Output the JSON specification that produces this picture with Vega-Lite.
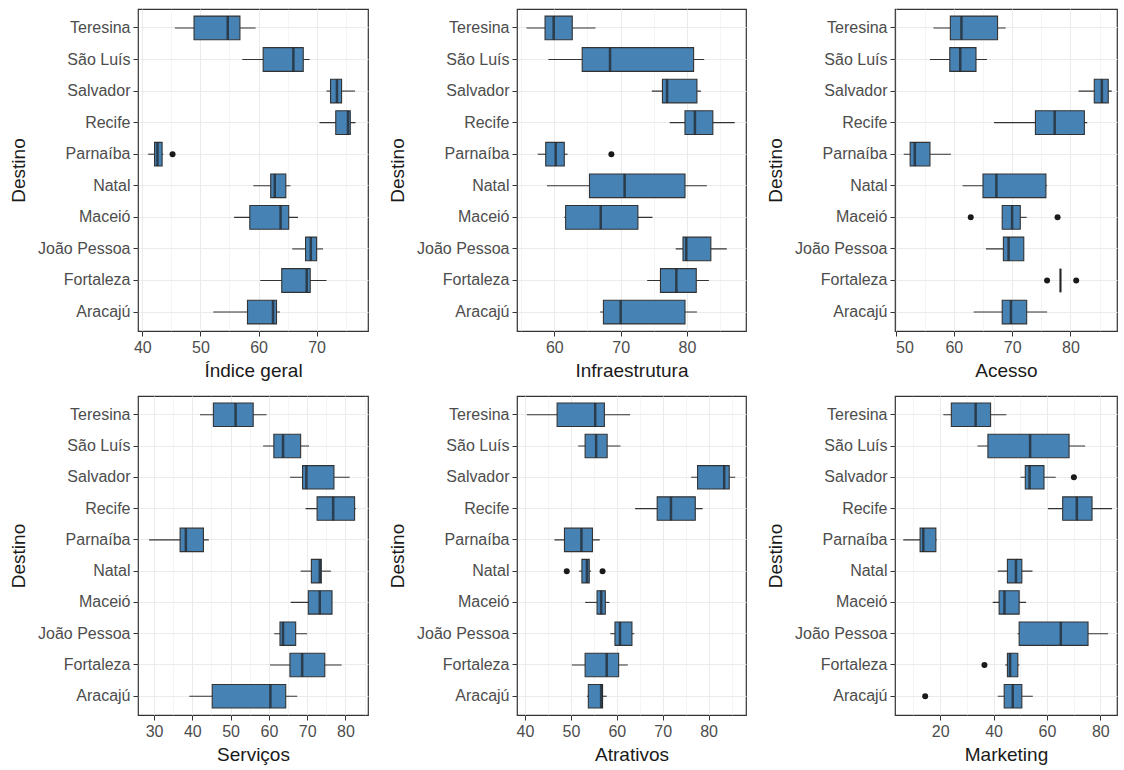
{
  "$schema": "https://vega.github.io/schema/vega-lite/v6.json",
  "padding": {"left": 8, "top": 8, "right": 0, "bottom": 0},
  "background": "white",
  "config": {
    "font": "Liberation Sans",
    "view": {"stroke": "#333333", "strokeWidth": 1.2},
    "axis": {
      "domain": false,
      "gridColor": "#EBEBEB",
      "tickColor": "#333333",
      "tickSize": 5,
      "tickWidth": 1,
      "labelFontSize": 16,
      "labelColor": "#4D4D4D",
      "labelPadding": 3,
      "labelOverlap": false,
      "titleFontSize": 19,
      "titleFontWeight": "normal",
      "titleColor": "#1A1A1A",
      "titlePadding": 6
    },
    "axisY": {"grid": true, "bandPosition": 0.5, "titlePadding": 9}
  },
  "datasets": {
    "stats": [
      {"v": "Índice geral", "Destino": "Teresina", "low": 45.6, "q1": 48.9, "med": 54.7, "q3": 56.8, "high": 59.5},
      {"v": "Índice geral", "Destino": "São Luís", "low": 57.2, "q1": 60.8, "med": 66.0, "q3": 67.7, "high": 68.8},
      {"v": "Índice geral", "Destino": "Salvador", "low": 71.7, "q1": 72.4, "med": 73.5, "q3": 74.3, "high": 76.6},
      {"v": "Índice geral", "Destino": "Recife", "low": 70.5, "q1": 73.3, "med": 75.4, "q3": 75.8, "high": 76.7},
      {"v": "Índice geral", "Destino": "Parnaíba", "low": 41.0, "q1": 42.1, "med": 42.6, "q3": 43.4, "high": 43.6},
      {"v": "Índice geral", "Destino": "Natal", "low": 59.1, "q1": 62.1, "med": 62.8, "q3": 64.7, "high": 65.5},
      {"v": "Índice geral", "Destino": "Maceió", "low": 55.8, "q1": 58.5, "med": 63.8, "q3": 65.2, "high": 66.8},
      {"v": "Índice geral", "Destino": "João Pessoa", "low": 65.8, "q1": 68.1, "med": 69.0, "q3": 70.0, "high": 71.1},
      {"v": "Índice geral", "Destino": "Fortaleza", "low": 60.3, "q1": 64.0, "med": 68.3, "q3": 68.9, "high": 71.7},
      {"v": "Índice geral", "Destino": "Aracajú", "low": 52.2, "q1": 58.1, "med": 62.5, "q3": 63.1, "high": 63.7},

      {"v": "Infraestrutura", "Destino": "Teresina", "low": 55.8, "q1": 58.6, "med": 59.9, "q3": 62.7, "high": 66.2},
      {"v": "Infraestrutura", "Destino": "São Luís", "low": 59.1, "q1": 64.2, "med": 68.4, "q3": 81.0, "high": 82.6},
      {"v": "Infraestrutura", "Destino": "Salvador", "low": 74.7, "q1": 76.3, "med": 77.0, "q3": 81.5, "high": 82.1},
      {"v": "Infraestrutura", "Destino": "Recife", "low": 77.4, "q1": 79.7, "med": 81.2, "q3": 83.9, "high": 87.2},
      {"v": "Infraestrutura", "Destino": "Parnaíba", "low": 57.5, "q1": 58.7, "med": 60.2, "q3": 61.5, "high": 62.0},
      {"v": "Infraestrutura", "Destino": "Natal", "low": 58.9, "q1": 65.3, "med": 70.6, "q3": 79.7, "high": 83.0},
      {"v": "Infraestrutura", "Destino": "Maceió", "low": 61.5, "q1": 61.7, "med": 67.0, "q3": 72.6, "high": 74.8},
      {"v": "Infraestrutura", "Destino": "João Pessoa", "low": 78.3, "q1": 79.4, "med": 79.9, "q3": 83.6, "high": 86.0},
      {"v": "Infraestrutura", "Destino": "Fortaleza", "low": 74.0, "q1": 76.0, "med": 78.4, "q3": 81.4, "high": 83.3},
      {"v": "Infraestrutura", "Destino": "Aracajú", "low": 66.9, "q1": 67.4, "med": 70.0, "q3": 79.7, "high": 81.5},

      {"v": "Acesso", "Destino": "Teresina", "low": 56.5, "q1": 59.4, "med": 61.3, "q3": 67.5, "high": 68.9},
      {"v": "Acesso", "Destino": "São Luís", "low": 55.9, "q1": 59.3, "med": 61.1, "q3": 63.8, "high": 65.7},
      {"v": "Acesso", "Destino": "Salvador", "low": 81.4, "q1": 84.1, "med": 85.4, "q3": 86.5, "high": 87.1},
      {"v": "Acesso", "Destino": "Recife", "low": 66.9, "q1": 74.0, "med": 77.3, "q3": 82.4, "high": 82.9},
      {"v": "Acesso", "Destino": "Parnaíba", "low": 51.4, "q1": 52.5, "med": 53.3, "q3": 55.9, "high": 59.5},
      {"v": "Acesso", "Destino": "Natal", "low": 61.5, "q1": 65.0, "med": 67.3, "q3": 75.8, "high": 76.0},
      {"v": "Acesso", "Destino": "Maceió", "low": 68.3, "q1": 68.3, "med": 70.0, "q3": 71.4, "high": 72.5},
      {"v": "Acesso", "Destino": "João Pessoa", "low": 65.5, "q1": 68.5, "med": 69.4, "q3": 72.0, "high": 72.0},
      {"v": "Acesso", "Destino": "Fortaleza", "low": 78.3, "q1": 78.3, "med": 78.3, "q3": 78.3, "high": 78.3},
      {"v": "Acesso", "Destino": "Aracajú", "low": 63.4, "q1": 68.3, "med": 69.8, "q3": 72.5, "high": 76.0},

      {"v": "Serviços", "Destino": "Teresina", "low": 42.0, "q1": 45.5, "med": 51.3, "q3": 55.9, "high": 59.4},
      {"v": "Serviços", "Destino": "São Luís", "low": 58.5, "q1": 61.3, "med": 63.7, "q3": 68.3, "high": 70.5},
      {"v": "Serviços", "Destino": "Salvador", "low": 65.5, "q1": 68.8, "med": 69.8, "q3": 77.0, "high": 81.1},
      {"v": "Serviços", "Destino": "Recife", "low": 69.6, "q1": 72.6, "med": 76.8, "q3": 82.4, "high": 82.7},
      {"v": "Serviços", "Destino": "Parnaíba", "low": 28.7, "q1": 36.8, "med": 38.3, "q3": 42.9, "high": 44.3},
      {"v": "Serviços", "Destino": "Natal", "low": 68.3, "q1": 71.1, "med": 73.3, "q3": 73.7, "high": 76.2},
      {"v": "Serviços", "Destino": "Maceió", "low": 65.7, "q1": 70.3, "med": 73.3, "q3": 76.5, "high": 76.5},
      {"v": "Serviços", "Destino": "João Pessoa", "low": 61.4, "q1": 62.9, "med": 63.7, "q3": 67.0, "high": 70.0},
      {"v": "Serviços", "Destino": "Fortaleza", "low": 60.3, "q1": 65.5, "med": 68.7, "q3": 74.6, "high": 79.0},
      {"v": "Serviços", "Destino": "Aracajú", "low": 39.2, "q1": 45.2, "med": 60.4, "q3": 64.4, "high": 67.4},

      {"v": "Atrativos", "Destino": "Teresina", "low": 40.4, "q1": 47.0, "med": 55.3, "q3": 57.3, "high": 62.9},
      {"v": "Atrativos", "Destino": "São Luís", "low": 51.6, "q1": 53.1, "med": 55.5, "q3": 57.9, "high": 60.8},
      {"v": "Atrativos", "Destino": "Salvador", "low": 76.2, "q1": 77.6, "med": 83.4, "q3": 84.5, "high": 85.8},
      {"v": "Atrativos", "Destino": "Recife", "low": 64.0, "q1": 68.8, "med": 71.8, "q3": 77.1, "high": 78.7},
      {"v": "Atrativos", "Destino": "Parnaíba", "low": 46.4, "q1": 48.6, "med": 52.3, "q3": 54.7, "high": 56.3},
      {"v": "Atrativos", "Destino": "Natal", "low": 51.8, "q1": 52.4, "med": 53.5, "q3": 54.0, "high": 54.4},
      {"v": "Atrativos", "Destino": "Maceió", "low": 53.1, "q1": 55.7, "med": 56.6, "q3": 57.5, "high": 58.4},
      {"v": "Atrativos", "Destino": "João Pessoa", "low": 58.6, "q1": 59.6, "med": 60.7, "q3": 63.3, "high": 63.8},
      {"v": "Atrativos", "Destino": "Fortaleza", "low": 50.2, "q1": 53.1, "med": 57.8, "q3": 60.4, "high": 62.4},
      {"v": "Atrativos", "Destino": "Aracajú", "low": 53.5, "q1": 53.8, "med": 56.6, "q3": 56.9, "high": 57.8},

      {"v": "Marketing", "Destino": "Teresina", "low": 21.2, "q1": 24.2, "med": 33.3, "q3": 38.9, "high": 44.8},
      {"v": "Marketing", "Destino": "São Luís", "low": 34.0, "q1": 37.9, "med": 53.7, "q3": 68.3, "high": 74.3},
      {"v": "Marketing", "Destino": "Salvador", "low": 50.1, "q1": 51.9, "med": 53.5, "q3": 58.9, "high": 63.3},
      {"v": "Marketing", "Destino": "Recife", "low": 60.4, "q1": 65.9, "med": 71.2, "q3": 76.9, "high": 84.4},
      {"v": "Marketing", "Destino": "Parnaíba", "low": 6.2, "q1": 12.5, "med": 13.7, "q3": 18.4, "high": 18.7},
      {"v": "Marketing", "Destino": "Natal", "low": 41.6, "q1": 45.2, "med": 48.4, "q3": 50.6, "high": 54.6},
      {"v": "Marketing", "Destino": "Maceió", "low": 39.7, "q1": 42.1, "med": 44.1, "q3": 49.6, "high": 52.2},
      {"v": "Marketing", "Destino": "João Pessoa", "low": 49.0, "q1": 49.6, "med": 65.2, "q3": 75.4, "high": 82.9},
      {"v": "Marketing", "Destino": "Fortaleza", "low": 44.4, "q1": 45.2, "med": 46.2, "q3": 49.1, "high": 49.7},
      {"v": "Marketing", "Destino": "Aracajú", "low": 41.6, "q1": 44.0, "med": 47.2, "q3": 50.6, "high": 54.7}
    ],
    "outliers": [
      {"v": "Índice geral", "Destino": "Parnaíba", "value": 45.2},
      {"v": "Infraestrutura", "Destino": "Parnaíba", "value": 68.6},
      {"v": "Acesso", "Destino": "Maceió", "value": 62.9},
      {"v": "Acesso", "Destino": "Maceió", "value": 77.8},
      {"v": "Acesso", "Destino": "Fortaleza", "value": 76.0},
      {"v": "Acesso", "Destino": "Fortaleza", "value": 81.0},
      {"v": "Atrativos", "Destino": "Natal", "value": 49.1},
      {"v": "Atrativos", "Destino": "Natal", "value": 56.9},
      {"v": "Marketing", "Destino": "Salvador", "value": 70.1},
      {"v": "Marketing", "Destino": "Fortaleza", "value": 36.6},
      {"v": "Marketing", "Destino": "Aracajú", "value": 14.4}
    ]
  },
  "concat": [
    {
      "width": 230, "height": 322,
      "data": {"name": "stats"},
      "transform": [{"filter": "datum.v === 'Índice geral'"}],
      "resolve": {"axis": {"x": "independent"}},
      "encoding": {"y": {"field": "Destino", "type": "nominal", "title": "Destino", "sort": ["Teresina", "São Luís", "Salvador", "Recife", "Parnaíba", "Natal", "Maceió", "João Pessoa", "Fortaleza", "Aracajú"], "scale": {"type": "band", "paddingInner": 0, "paddingOuter": 0.1}}},
      "layer": [
        {"mark": {"type": "rule", "color": "#333333", "strokeWidth": 1.1}, "encoding": {"x": {"field": "low", "type": "quantitative", "title": "Índice geral", "scale": {"domain": [39.25, 78.85], "nice": false, "zero": false}, "axis": {"values": [40, 50, 60, 70], "grid": true, "gridWidth": 1}}, "x2": {"field": "high"}}},
        {"mark": {"type": "bar", "fill": "#4682B4", "stroke": "#333333", "strokeWidth": 1.1, "height": {"band": 0.75}}, "encoding": {"x": {"field": "q1", "type": "quantitative", "axis": {"orient": "top", "values": [45, 55, 65, 75], "grid": true, "gridWidth": 0.5, "labels": false, "ticks": false, "domain": false, "title": null}}, "x2": {"field": "q3"}}},
        {"mark": {"type": "tick", "color": "#1F1F1F", "thickness": 2.5, "size": 23.7}, "encoding": {"x": {"field": "med", "type": "quantitative", "axis": null}}},
        {"data": {"name": "outliers"}, "transform": [{"filter": "datum.v === 'Índice geral'"}], "mark": {"type": "circle", "color": "#1A1A1A", "size": 36, "opacity": 1}, "encoding": {"x": {"field": "value", "type": "quantitative", "axis": null}}}
      ]
    },
    {
      "width": 229, "height": 322,
      "data": {"name": "stats"},
      "transform": [{"filter": "datum.v === 'Infraestrutura'"}],
      "resolve": {"axis": {"x": "independent"}},
      "encoding": {"y": {"field": "Destino", "type": "nominal", "title": "Destino", "sort": ["Teresina", "São Luís", "Salvador", "Recife", "Parnaíba", "Natal", "Maceió", "João Pessoa", "Fortaleza", "Aracajú"], "scale": {"type": "band", "paddingInner": 0, "paddingOuter": 0.1}}},
      "layer": [
        {"mark": {"type": "rule", "color": "#333333", "strokeWidth": 1.1}, "encoding": {"x": {"field": "low", "type": "quantitative", "title": "Infraestrutura", "scale": {"domain": [54.37, 88.9], "nice": false, "zero": false}, "axis": {"values": [60, 70, 80], "grid": true, "gridWidth": 1}}, "x2": {"field": "high"}}},
        {"mark": {"type": "bar", "fill": "#4682B4", "stroke": "#333333", "strokeWidth": 1.1, "height": {"band": 0.75}}, "encoding": {"x": {"field": "q1", "type": "quantitative", "axis": {"orient": "top", "values": [55, 65, 75, 85], "grid": true, "gridWidth": 0.5, "labels": false, "ticks": false, "domain": false, "title": null}}, "x2": {"field": "q3"}}},
        {"mark": {"type": "tick", "color": "#1F1F1F", "thickness": 2.5, "size": 23.7}, "encoding": {"x": {"field": "med", "type": "quantitative", "axis": null}}},
        {"data": {"name": "outliers"}, "transform": [{"filter": "datum.v === 'Infraestrutura'"}], "mark": {"type": "circle", "color": "#1A1A1A", "size": 36, "opacity": 1}, "encoding": {"x": {"field": "value", "type": "quantitative", "axis": null}}}
      ]
    },
    {
      "width": 222, "height": 322,
      "data": {"name": "stats"},
      "transform": [{"filter": "datum.v === 'Acesso'"}],
      "resolve": {"axis": {"x": "independent"}},
      "encoding": {"y": {"field": "Destino", "type": "nominal", "title": "Destino", "sort": ["Teresina", "São Luís", "Salvador", "Recife", "Parnaíba", "Natal", "Maceió", "João Pessoa", "Fortaleza", "Aracajú"], "scale": {"type": "band", "paddingInner": 0, "paddingOuter": 0.1}}},
      "layer": [
        {"mark": {"type": "rule", "color": "#333333", "strokeWidth": 1.1}, "encoding": {"x": {"field": "low", "type": "quantitative", "title": "Acesso", "scale": {"domain": [49.9, 88.0], "nice": false, "zero": false}, "axis": {"values": [50, 60, 70, 80], "grid": true, "gridWidth": 1}}, "x2": {"field": "high"}}},
        {"mark": {"type": "bar", "fill": "#4682B4", "stroke": "#333333", "strokeWidth": 1.1, "height": {"band": 0.75}}, "encoding": {"x": {"field": "q1", "type": "quantitative", "axis": {"orient": "top", "values": [55, 65, 75, 85], "grid": true, "gridWidth": 0.5, "labels": false, "ticks": false, "domain": false, "title": null}}, "x2": {"field": "q3"}}},
        {"mark": {"type": "tick", "color": "#1F1F1F", "thickness": 2.5, "size": 23.7}, "encoding": {"x": {"field": "med", "type": "quantitative", "axis": null}}},
        {"data": {"name": "outliers"}, "transform": [{"filter": "datum.v === 'Acesso'"}], "mark": {"type": "circle", "color": "#1A1A1A", "size": 36, "opacity": 1}, "encoding": {"x": {"field": "value", "type": "quantitative", "axis": null}}}
      ]
    },
    {
      "width": 230, "height": 319,
      "data": {"name": "stats"},
      "transform": [{"filter": "datum.v === 'Serviços'"}],
      "resolve": {"axis": {"x": "independent"}},
      "encoding": {"y": {"field": "Destino", "type": "nominal", "title": "Destino", "sort": ["Teresina", "São Luís", "Salvador", "Recife", "Parnaíba", "Natal", "Maceió", "João Pessoa", "Fortaleza", "Aracajú"], "scale": {"type": "band", "paddingInner": 0, "paddingOuter": 0.1}}},
      "layer": [
        {"mark": {"type": "rule", "color": "#333333", "strokeWidth": 1.1}, "encoding": {"x": {"field": "low", "type": "quantitative", "title": "Serviços", "scale": {"domain": [25.8, 85.9], "nice": false, "zero": false}, "axis": {"values": [30, 40, 50, 60, 70, 80], "grid": true, "gridWidth": 1}}, "x2": {"field": "high"}}},
        {"mark": {"type": "bar", "fill": "#4682B4", "stroke": "#333333", "strokeWidth": 1.1, "height": {"band": 0.75}}, "encoding": {"x": {"field": "q1", "type": "quantitative", "axis": {"orient": "top", "values": [35, 45, 55, 65, 75, 85], "grid": true, "gridWidth": 0.5, "labels": false, "ticks": false, "domain": false, "title": null}}, "x2": {"field": "q3"}}},
        {"mark": {"type": "tick", "color": "#1F1F1F", "thickness": 2.5, "size": 23.5}, "encoding": {"x": {"field": "med", "type": "quantitative", "axis": null}}},
        {"data": {"name": "outliers"}, "transform": [{"filter": "datum.v === 'Serviços'"}], "mark": {"type": "circle", "color": "#1A1A1A", "size": 36, "opacity": 1}, "encoding": {"x": {"field": "value", "type": "quantitative", "axis": null}}}
      ]
    },
    {
      "width": 229, "height": 319,
      "data": {"name": "stats"},
      "transform": [{"filter": "datum.v === 'Atrativos'"}],
      "resolve": {"axis": {"x": "independent"}},
      "encoding": {"y": {"field": "Destino", "type": "nominal", "title": "Destino", "sort": ["Teresina", "São Luís", "Salvador", "Recife", "Parnaíba", "Natal", "Maceió", "João Pessoa", "Fortaleza", "Aracajú"], "scale": {"type": "band", "paddingInner": 0, "paddingOuter": 0.1}}},
      "layer": [
        {"mark": {"type": "rule", "color": "#333333", "strokeWidth": 1.1}, "encoding": {"x": {"field": "low", "type": "quantitative", "title": "Atrativos", "scale": {"domain": [38.26, 88.15], "nice": false, "zero": false}, "axis": {"values": [40, 50, 60, 70, 80], "grid": true, "gridWidth": 1}}, "x2": {"field": "high"}}},
        {"mark": {"type": "bar", "fill": "#4682B4", "stroke": "#333333", "strokeWidth": 1.1, "height": {"band": 0.75}}, "encoding": {"x": {"field": "q1", "type": "quantitative", "axis": {"orient": "top", "values": [45, 55, 65, 75, 85], "grid": true, "gridWidth": 0.5, "labels": false, "ticks": false, "domain": false, "title": null}}, "x2": {"field": "q3"}}},
        {"mark": {"type": "tick", "color": "#1F1F1F", "thickness": 2.5, "size": 23.5}, "encoding": {"x": {"field": "med", "type": "quantitative", "axis": null}}},
        {"data": {"name": "outliers"}, "transform": [{"filter": "datum.v === 'Atrativos'"}], "mark": {"type": "circle", "color": "#1A1A1A", "size": 36, "opacity": 1}, "encoding": {"x": {"field": "value", "type": "quantitative", "axis": null}}}
      ]
    },
    {
      "width": 222, "height": 319,
      "data": {"name": "stats"},
      "transform": [{"filter": "datum.v === 'Marketing'"}],
      "resolve": {"axis": {"x": "independent"}},
      "encoding": {"y": {"field": "Destino", "type": "nominal", "title": "Destino", "sort": ["Teresina", "São Luís", "Salvador", "Recife", "Parnaíba", "Natal", "Maceió", "João Pessoa", "Fortaleza", "Aracajú"], "scale": {"type": "band", "paddingInner": 0, "paddingOuter": 0.1}}},
      "layer": [
        {"mark": {"type": "rule", "color": "#333333", "strokeWidth": 1.1}, "encoding": {"x": {"field": "low", "type": "quantitative", "title": "Marketing", "scale": {"domain": [3.1, 86.25], "nice": false, "zero": false}, "axis": {"values": [20, 40, 60, 80], "grid": true, "gridWidth": 1}}, "x2": {"field": "high"}}},
        {"mark": {"type": "bar", "fill": "#4682B4", "stroke": "#333333", "strokeWidth": 1.1, "height": {"band": 0.75}}, "encoding": {"x": {"field": "q1", "type": "quantitative", "axis": {"orient": "top", "values": [10, 30, 50, 70], "grid": true, "gridWidth": 0.5, "labels": false, "ticks": false, "domain": false, "title": null}}, "x2": {"field": "q3"}}},
        {"mark": {"type": "tick", "color": "#1F1F1F", "thickness": 2.5, "size": 23.5}, "encoding": {"x": {"field": "med", "type": "quantitative", "axis": null}}},
        {"data": {"name": "outliers"}, "transform": [{"filter": "datum.v === 'Marketing'"}], "mark": {"type": "circle", "color": "#1A1A1A", "size": 36, "opacity": 1}, "encoding": {"x": {"field": "value", "type": "quantitative", "axis": null}}}
      ]
    }
  ],
  "columns": 3,
  "spacing": {"row": 14, "column": 18}
}
